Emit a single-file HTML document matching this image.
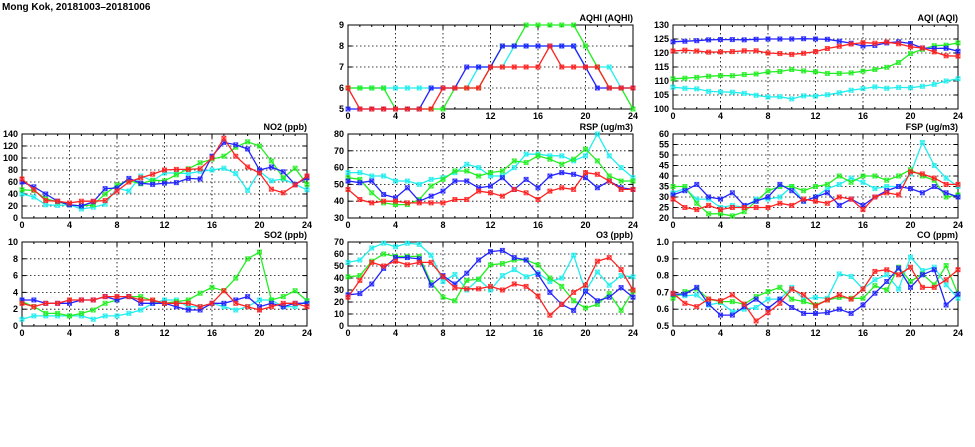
<!DOCTYPE html>
<html><head><meta charset="utf-8"><style>
html,body{margin:0;padding:0;background:#fff;width:975px;height:447px;overflow:hidden}
svg text{font-family:"Liberation Sans",sans-serif;font-size:9px;font-weight:bold;fill:#000}
</style></head><body>
<svg id="s" width="975" height="447" viewBox="0 0 975 447" xmlns="http://www.w3.org/2000/svg">
<text x="2" y="10" style="font-size:10px">Mong Kok, 20181003–20181006</text>
<g id="p1" transform="translate(348,25)"><text x="285" y="-4" text-anchor="end">AQHI (AQHI)</text>
<g text-anchor="end"><text x="-4" y="3">9</text><text x="-4" y="24">8</text><text x="-4" y="45">7</text><text x="-4" y="66">6</text><text x="-4" y="87">5</text></g></g>
<g id="p2" transform="translate(673,25)"><text x="285" y="-4" text-anchor="end">AQI (AQI)</text>
<g text-anchor="end"><text x="-4" y="3">130</text><text x="-4" y="17">125</text><text x="-4" y="31">120</text><text x="-4" y="45">115</text><text x="-4" y="59">110</text><text x="-4" y="73">105</text><text x="-4" y="87">100</text></g></g>
<g id="p3" transform="translate(22,134)"><text x="285" y="-4" text-anchor="end">NO2 (ppb)</text>
<g text-anchor="end"><text x="-4" y="3">140</text><text x="-4" y="15">120</text><text x="-4" y="27">100</text><text x="-4" y="39">80</text><text x="-4" y="51">60</text><text x="-4" y="63">40</text><text x="-4" y="75">20</text><text x="-4" y="87">0</text></g></g>
<g id="p4" transform="translate(348,134)"><text x="285" y="-4" text-anchor="end">RSP (ug/m3)</text>
<g text-anchor="end"><text x="-4" y="3">80</text><text x="-4" y="19.8">70</text><text x="-4" y="36.6">60</text><text x="-4" y="53.4">50</text><text x="-4" y="70.2">40</text><text x="-4" y="87">30</text></g></g>
<g id="p5" transform="translate(673,134)"><text x="285" y="-4" text-anchor="end">FSP (ug/m3)</text>
<g text-anchor="end"><text x="-4" y="3">60</text><text x="-4" y="13.5">55</text><text x="-4" y="24">50</text><text x="-4" y="34.5">45</text><text x="-4" y="45">40</text><text x="-4" y="55.5">35</text><text x="-4" y="66">30</text><text x="-4" y="76.5">25</text><text x="-4" y="87">20</text></g></g>
<g id="p6" transform="translate(22,242)"><text x="285" y="-4" text-anchor="end">SO2 (ppb)</text>
<g text-anchor="end"><text x="-4" y="3">10</text><text x="-4" y="19.8">8</text><text x="-4" y="36.6">6</text><text x="-4" y="53.4">4</text><text x="-4" y="70.2">2</text><text x="-4" y="87">0</text></g></g>
<g id="p7" transform="translate(348,242)"><text x="285" y="-4" text-anchor="end">O3 (ppb)</text>
<g text-anchor="end"><text x="-4" y="3">70</text><text x="-4" y="15">60</text><text x="-4" y="27">50</text><text x="-4" y="39">40</text><text x="-4" y="51">30</text><text x="-4" y="63">20</text><text x="-4" y="75">10</text><text x="-4" y="87">0</text></g></g>
<g id="p8" transform="translate(673,242)"><text x="285" y="-4" text-anchor="end">CO (ppm)</text>
<g text-anchor="end"><text x="-4" y="3">1.0</text><text x="-4" y="19.8">0.9</text><text x="-4" y="36.6">0.8</text><text x="-4" y="53.4">0.7</text><text x="-4" y="70.2">0.6</text><text x="-4" y="87">0.5</text></g></g>
<g text-anchor="middle">
<g transform="translate(22,228)"><text x="0">0</text><text x="47.5">4</text><text x="95">8</text><text x="142.5">12</text><text x="190">16</text><text x="237.5">20</text><text x="285">24</text></g>
<g transform="translate(348,228)"><text x="0">0</text><text x="47.5">4</text><text x="95">8</text><text x="142.5">12</text><text x="190">16</text><text x="237.5">20</text><text x="285">24</text></g>
<g transform="translate(673,228)"><text x="0">0</text><text x="47.5">4</text><text x="95">8</text><text x="142.5">12</text><text x="190">16</text><text x="237.5">20</text><text x="285">24</text></g>
<g transform="translate(348,119)"><text x="0">0</text><text x="47.5">4</text><text x="95">8</text><text x="142.5">12</text><text x="190">16</text><text x="237.5">20</text><text x="285">24</text></g>
<g transform="translate(673,119)"><text x="0">0</text><text x="47.5">4</text><text x="95">8</text><text x="142.5">12</text><text x="190">16</text><text x="237.5">20</text><text x="285">24</text></g>
<g transform="translate(22,336)"><text x="0">0</text><text x="47.5">4</text><text x="95">8</text><text x="142.5">12</text><text x="190">16</text><text x="237.5">20</text><text x="285">24</text></g>
<g transform="translate(348,336)"><text x="0">0</text><text x="47.5">4</text><text x="95">8</text><text x="142.5">12</text><text x="190">16</text><text x="237.5">20</text><text x="285">24</text></g>
<g transform="translate(673,336)"><text x="0">0</text><text x="47.5">4</text><text x="95">8</text><text x="142.5">12</text><text x="190">16</text><text x="237.5">20</text><text x="285">24</text></g>
</g>
</svg>
<script>
var NS="http://www.w3.org/2000/svg";
var C={c:"#22eeee",g:"#22ee22",b:"#2222ff",r:"#ff2222"};
var P={
p1:{min:5,max:9,n:4,d:{
c:[6,6,6,6,6,6,6,6,6,6,6,7,7,7,8,8,8,8,8,8,7,7,7,6,6],
g:[6,6,6,6,5,5,5,5,5,6,6,6,7,8,8,9,9,9,9,9,8,7,6,6,5],
b:[5,5,5,5,5,5,5,6,6,6,7,7,7,8,8,8,8,8,8,8,7,6,6,6,6],
r:[6,5,5,5,5,5,5,5,6,6,6,6,7,7,7,7,7,8,7,7,7,7,6,6,6]}},
p2:{min:100,max:130,n:6,d:{
c:[107.8,107.4,107.2,106.3,106.1,106,105.6,104.9,104.3,104.4,103.6,104.7,104.6,105.1,105.8,106.7,107.3,107.9,107.4,107.7,107.6,108.1,108.8,110,110.8],
g:[110.8,111,111.3,111.7,111.9,111.9,112.3,112.5,113.2,113.4,114.1,113.6,113.3,112.7,112.7,112.9,113.5,114.1,114.9,116.6,119.8,121.3,122.6,122.8,123.6],
b:[124,124.2,124.4,124.7,124.8,124.8,124.7,124.9,125,125,125,125.1,125,124.9,124.2,123.5,122.5,122.7,123.6,124,123.4,121.8,121.6,121.7,120.6],
r:[120.7,121,120.7,120.3,120.4,120.5,120.8,120.8,120,119.8,119.5,119.9,120.5,121.6,122.4,123.2,123.7,123.5,123.9,123.3,122.2,121.8,120.4,119,118.9]}},
p3:{min:0,max:140,n:7,d:{
c:[40,35,22,21,22,15,18,23,50,45,70,62,75,75,74,78,80,83,74,46,78,62,65,56,47],
g:[47,46,32,27,22,20,22,40,55,62,57,63,62,72,82,92,98,103,118,127,120,95,67,83,56],
b:[60,52,40,28,22,20,27,49,50,66,58,56,58,59,66,65,103,126,122,115,80,85,77,56,67],
r:[65,47,29,28,25,28,28,29,45,60,67,73,80,81,81,82,100,133,103,85,75,48,42,55,70]}},
p4:{min:30,max:80,n:5,d:{
c:[57,57,55,55,52,52,50,53,54,57,62,60,55,55,60,68,68,67,67,64,67,80,67,60,54],
g:[54,53,45,39,38,38,41,49,53,58,58,55,57,58,64,63,67,65,62,65,71,64,55,52,52],
b:[52,51,52,44,42,48,40,43,46,52,52,48,49,54,47,53,48,55,57,56,54,48,52,48,47],
r:[47,41,39,40,40,39,39,39,39,41,41,46,45,43,47,45,41,46,48,47,57,56,52,47,47]}},
p5:{min:20,max:60,n:8,d:{
c:[32,34,29,29,25,26,25,29,29,30,35,28,30,34,36,39,37,34,35,35,41,56,45,39,35],
g:[35,35,27,22,22,21,23,28,33,35,35,33,35,36,40,37,40,40,38,40,43,40,38,30,31],
b:[31,33,36,30,29,32,26,28,30,36,33,28,30,32,26,29,26,30,33,35,34,32,35,32,30],
r:[29,25,24,26,24,25,25,25,25,27,26,29,28,27,30,29,24,30,32,31,42,41,39,36,36]}},
p6:{min:0,max:10,n:5,d:{
c:[0.8,1.2,1.2,1.2,1.2,1.2,0.8,1.2,1.2,1.5,1.9,2.7,3.1,3.1,2.3,2.3,2.7,2.3,1.9,2.3,3.1,3.1,2.3,2.3,3],
g:[2.9,2.3,1.5,1.5,1.2,1.5,1.9,2.7,3.1,3.5,3.5,3,2.7,2.9,3.1,3.9,4.6,4.2,5.7,8,8.8,3.1,3.5,4.2,3],
b:[3.1,3.1,2.7,2.7,2.7,3.1,3.1,3.5,3.1,3.5,2.7,2.7,2.7,2.3,1.9,1.9,2.7,2.7,3.1,3.5,2.3,2.7,2.3,2.7,2.7],
r:[2.7,2.3,2.7,2.7,3.1,3.1,3.1,3.5,3.5,3.5,3.1,3.1,2.7,2.7,2.7,2.3,2.7,4.2,2.7,2.3,1.9,2.3,2.7,2.7,2.3]}},
p7:{min:0,max:70,n:7,d:{
c:[53,55,65,69,66,69,68,59,37,43,30,39,30,42,47,41,44,37,40,59,29,45,34,42,41],
g:[41,42,54,60,58,58,58,36,24,21,38,39,51,52,55,55,51,40,33,21,15,18,27,13,29],
b:[26,27,35,48,57,57,56,34,42,35,44,55,62,63,57,55,43,28,18,13,29,21,24,32,24],
r:[24,38,53,50,54,51,53,53,41,32,31,31,33,30,35,33,25,9,18,28,34,54,57,47,30]}},
p8:{min:0.5,max:1.0,n:5,d:{
c:[0.69,0.68,0.685,0.625,0.64,0.585,0.6,0.61,0.66,0.66,0.73,0.66,0.67,0.665,0.81,0.795,0.72,0.775,0.805,0.72,0.91,0.83,0.85,0.745,0.665],
g:[0.665,0.705,0.72,0.66,0.645,0.645,0.63,0.675,0.705,0.73,0.66,0.645,0.625,0.655,0.67,0.665,0.665,0.74,0.715,0.85,0.765,0.81,0.745,0.86,0.69],
b:[0.69,0.69,0.73,0.63,0.565,0.565,0.615,0.66,0.605,0.66,0.61,0.575,0.575,0.58,0.6,0.575,0.625,0.695,0.765,0.845,0.73,0.805,0.835,0.625,0.69],
r:[0.695,0.635,0.615,0.66,0.65,0.685,0.63,0.53,0.58,0.635,0.72,0.685,0.62,0.655,0.685,0.66,0.72,0.825,0.835,0.805,0.85,0.73,0.73,0.775,0.835]}}
};
function el(t,a,p){var e=document.createElementNS(NS,t);for(var k in a)e.setAttribute(k,a[k]);p.appendChild(e);return e;}
var W=285,H=84;
for(var id in P){
 var p=P[id],g=document.getElementById(id);
 var gg=el("g",{},g);g.insertBefore(gg,g.firstChild);
 for(var i=1;i<6;i++)el("line",{x1:i*47.5,x2:i*47.5,y1:0,y2:H,stroke:"#000","stroke-width":0.8,"stroke-dasharray":"1.5,2.5"},gg);
 for(var j=1;j<p.n;j++){var y=H*j/p.n;el("line",{x1:0,x2:W,y1:y,y2:y,stroke:"#000","stroke-width":0.8,"stroke-dasharray":"1.5,2.5"},gg);
  el("line",{x1:0,x2:4,y1:y,y2:y,stroke:"#000"},gg);el("line",{x1:W-4,x2:W,y1:y,y2:y,stroke:"#000"},gg);}
 for(var h=1;h<24;h++){var x=h*W/24,L=(h%4==0)?4:2;el("line",{x1:x,x2:x,y1:H,y2:H-L,stroke:"#000"},gg);el("line",{x1:x,x2:x,y1:0,y2:L,stroke:"#000"},gg);}
 el("rect",{x:0,y:0,width:W,height:H,fill:"none",stroke:"#000","stroke-width":1},gg);
 ["c","g","b","r"].forEach(function(k){
  var v=p.d[k],pts=[];
  for(var i=0;i<25;i++){var x=i*W/24,y=H-(v[i]-p.min)/(p.max-p.min)*H;pts.push([x,y]);}
  el("polyline",{points:pts.map(function(q){return q[0].toFixed(1)+","+q[1].toFixed(1)}).join(" "),fill:"none",stroke:C[k],"stroke-width":1.3},gg);
  pts.forEach(function(q){
   if(q[1]<-1||q[1]>H+1)return;
   el("rect",{x:q[0]-2,y:q[1]-2,width:4,height:4,fill:"none",stroke:C[k],"stroke-width":1,opacity:0.8},gg);
   el("path",{d:"M"+(q[0]-2)+" "+(q[1]-2)+"l4 4M"+(q[0]+2)+" "+(q[1]-2)+"l-4 4",stroke:C[k],"stroke-width":1},gg);
  });
 });
}
</script>
</body></html>
